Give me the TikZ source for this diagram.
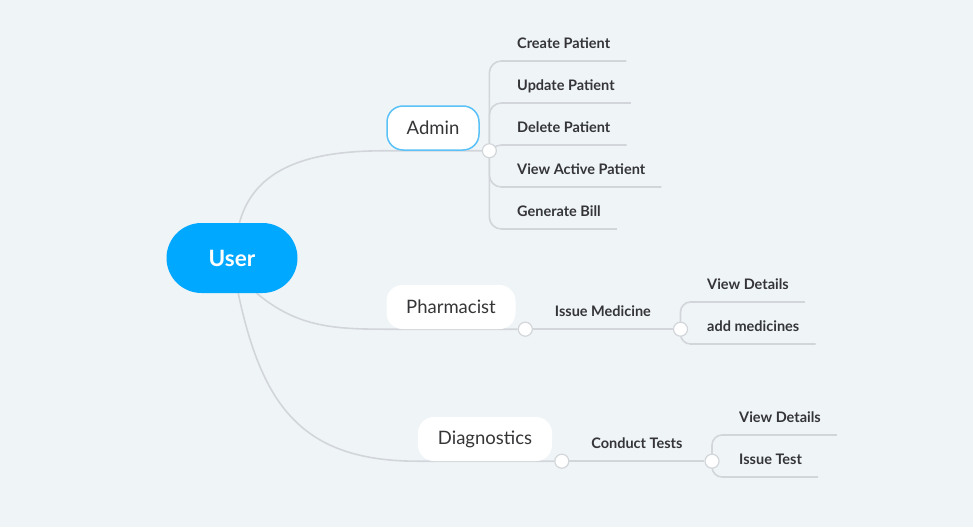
\documentclass[tikz,border=0pt]{standalone}
\usepackage{fontspec}
\setmainfont{Lato}
\usepackage{xcolor}
\usetikzlibrary{positioning,backgrounds}

\definecolor{bgcol}{HTML}{EFF4F7}
\definecolor{userblue}{HTML}{00A8FF}
\definecolor{selblue}{HTML}{5BC2F7}
\definecolor{linegray}{HTML}{D2D6DA}
\definecolor{textgray}{HTML}{353538}

\begin{document}
\begin{tikzpicture}[
        x=1pt,y=-1pt,
        node distance=2pt,
        root/.style={fill=userblue,text=white,font=\fontsize{22.5}{26}\selectfont\bfseries,rounded corners=35pt,minimum width=131pt,minimum height=70pt},
        topic/.style={fill=white,text=textgray,font=\fontsize{18.5}{22}\selectfont,rounded corners=16pt,minimum height=44pt,inner xsep=0pt},
        leaf/.style={text=textgray,font=\fontsize{14.5}{17}\selectfont\bfseries,inner xsep=16pt,inner ysep=12pt,text height=10pt,text depth=0pt,anchor=south west},
        link/.style={draw=linegray,line width=1.6pt},
        knob/.style={circle,draw=linegray,fill=white,line width=1.2pt,minimum size=14pt,inner sep=0pt}
    ]
        \useasboundingbox (0,0) rectangle (973,527);

        \node[root] (user) at (232,258) {User};
        \node[topic,draw=selblue,line width=1.5pt,minimum width=92pt] (admin) at (433,128) {Admin};
        \node[topic,minimum width=129pt] (pharm) at (451,307) {Pharmacist};
        \node[topic,minimum width=134pt] (diag) at (485,439) {Diagnostics};

        \node[knob,right=of admin.south east] (admdot) {};
        \node[knob,right=of pharm.south east] (pharmdot) {};
        \node[knob,right=140pt of pharmdot] (meddot) {};
        \node[knob,right=of diag.south east] (diagdot) {};
        \node[knob,right=135pt of diagdot] (testdot) {};

        % leaves
        \node[leaf] (create) at (501,61) {Create Patient};
        \node[leaf] (update) at (501,103) {Update Patient};
        \node[leaf] (delete) at (501,145) {Delete Patient};
        \node[leaf] (active) at (501,187) {View Active Patient};
        \node[leaf] (bill) at (501,229) {Generate Bill};
        \node[leaf] (viewmed) at (691,302) {View Details};
        \node[leaf] (addmed) at (691,344) {add medicines};
        \node[leaf] (viewtest) at (723,435) {View Details};
        \node[leaf] (issuetest) at (723,477) {Issue Test};

        \begin{scope}[on background layer]
            \fill[bgcol] (0,0) rectangle (973,527);
            \draw[link] (user.78) to[out=75,in=180] (admin.south west) -- (admdot);
            \draw[link] (user.-55) to[out=-40,in=180] (pharm.south west) -- (pharmdot);
            \draw[link] (user.-80) to[out=-78,in=180,looseness=1.2] (diag.south west) -- (diagdot);
            \draw[link] (pharmdot) -- node[leaf,anchor=south,inner xsep=0pt] {Issue Medicine} (meddot);
            \draw[link] (diagdot) -- node[leaf,anchor=south,inner xsep=0pt] {Conduct Tests} (testdot);
            \foreach \n in {create,update,delete,active,bill}
                \draw[link,rounded corners=12pt] (admdot.center) |- (\n.south east);
            \foreach \n in {viewmed,addmed}
                \draw[link,rounded corners=10pt] (meddot.center) |- (\n.south east);
            \foreach \n in {viewtest,issuetest}
                \draw[link,rounded corners=10pt] (testdot.center) |- (\n.south east);
        \end{scope}
    \end{tikzpicture}
\end{document}
